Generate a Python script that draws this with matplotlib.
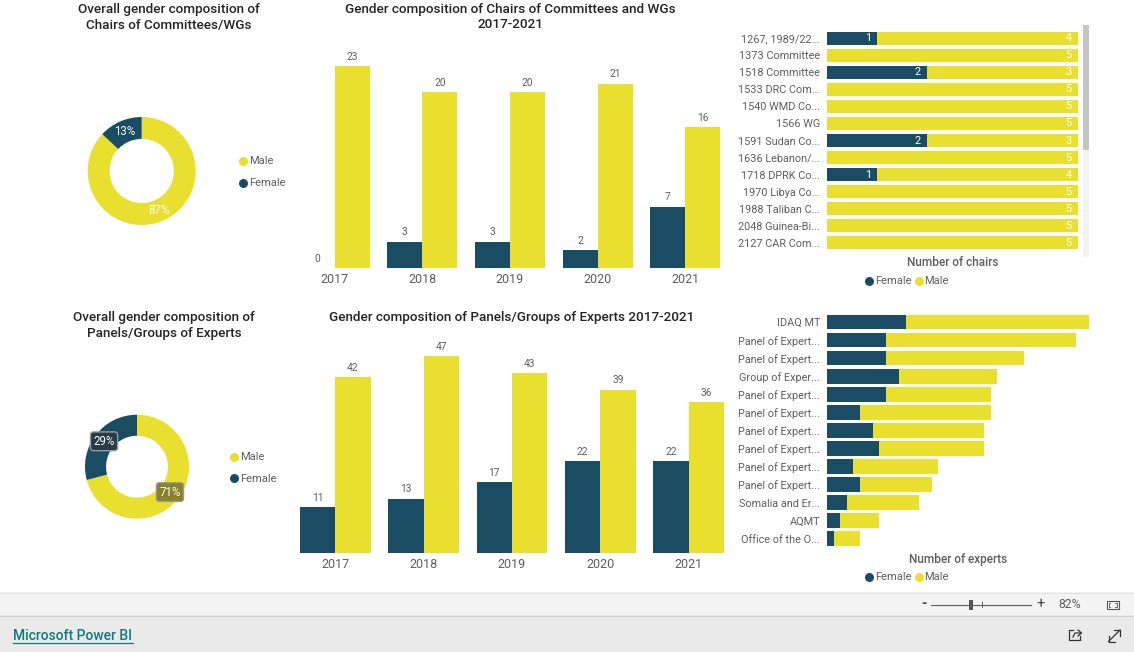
import matplotlib
matplotlib.use("Agg")
import matplotlib.pyplot as plt
from matplotlib.patches import Rectangle

W, H = 1134, 652

NAVY = "#1A4D63"
YELLOW = "#E9DF2E"
GREY_TEXT = "#605E5C"
TITLE_TEXT = "#252423"

years = ["2017", "2018", "2019", "2020", "2021"]

chairs_female = [0, 3, 3, 2, 7]
chairs_male = [23, 20, 20, 21, 16]

experts_female = [11, 13, 17, 22, 22]
experts_male = [42, 47, 43, 39, 36]

committees = [
    "1267, 1989/22...", "1373 Committee", "1518 Committee", "1533 DRC Com...",
    "1540 WMD Co...", "1566 WG", "1591 Sudan Co...", "1636 Lebanon/...",
    "1718 DPRK Co...", "1970 Libya Co...", "1988 Taliban C...", "2048 Guinea-Bi...",
    "2127 CAR Com...",
]
committee_female = [1, 0, 2, 0, 0, 0, 2, 0, 1, 0, 0, 0, 0]
committee_male = [4, 5, 3, 5, 5, 5, 3, 5, 4, 5, 5, 5, 5]

panels = [
    "IDAQ MT", "Panel of Expert...", "Panel of Expert...", "Group of Exper...",
    "Panel of Expert...", "Panel of Expert...", "Panel of Expert...", "Panel of Expert...",
    "Panel of Expert...", "Panel of Expert...", "Somalia and Er...", "AQMT",
    "Office of the O...",
]
panel_female = [12, 9, 9, 11, 9, 5, 7, 8, 4, 5, 3, 2, 1]
panel_male = [28, 29, 21, 15, 16, 20, 17, 16, 13, 11, 11, 6, 4]

plt.rcParams["font.family"] = ["Roboto", "DejaVu Sans"]

fig = plt.figure(figsize=(W / 100, H / 100), dpi=100, facecolor="white")


def axes_px(x0, y0, x1, y1):
    # pixel box measured from the top left of the picture
    ax = fig.add_axes([x0 / W, 1 - y1 / H, (x1 - x0) / W, (y1 - y0) / H])
    ax.patch.set_alpha(0)
    return ax


# page furniture, drawn in pixel coordinates
page = axes_px(0, 0, W, H)
page.set_xlim(0, W)
page.set_ylim(H, 0)
page.axis("off")


def donut(box, female, male, label_boxes=False):
    ax = axes_px(*box)
    wedges, _, pcts = ax.pie(
        [sum(male), sum(female)],
        colors=[YELLOW, NAVY],
        startangle=90,
        counterclock=False,
        radius=1,
        wedgeprops={"width": 0.405},
        autopct="%.0f%%",
        pctdistance=0.8,
        textprops={"color": "white", "fontsize": 8.3},
    )
    ax.set_xlim(-1, 1)
    ax.set_ylim(-1, 1)
    if label_boxes:
        for t, col in zip(pcts, ["#8A8226", "#263C47"]):
            t.set_bbox({"boxstyle": "round,pad=0.25", "fc": col, "ec": "#9A9A9A", "lw": 1})


def columns(box, female, male, ymax):
    ax = axes_px(*box)
    x = list(range(len(years)))
    b1 = ax.bar([i - 0.2 for i in x], female, width=0.4, color=NAVY)
    b2 = ax.bar([i + 0.2 for i in x], male, width=0.4, color=YELLOW)
    ax.bar_label(b1, padding=3, fontsize=7.3, color=GREY_TEXT)
    ax.bar_label(b2, padding=3, fontsize=7.3, color=GREY_TEXT)
    ax.set_xticks(x)
    ax.set_xticklabels(years, fontsize=9, color=GREY_TEXT)
    ax.set_yticks([])
    ax.tick_params(axis="x", length=0, pad=3.5)
    ax.set_xlim(-0.5, len(years) - 0.5)
    ax.set_ylim(0, ymax)
    for s in ax.spines.values():
        s.set_visible(False)


def stacked(box, names, female, male, xmax, bar_h, show_values):
    ax = axes_px(*box)
    y = list(range(len(names)))
    b1 = ax.barh(y, female, height=bar_h, color=NAVY)
    b2 = ax.barh(y, male, left=female, height=bar_h, color=YELLOW)
    if show_values:
        ax.bar_label(b1, labels=[str(v) if v else "" for v in female],
                     padding=-9, fontsize=7.8, color="white")
        ax.bar_label(b2, labels=[str(v) if v else "" for v in male],
                     padding=-9, fontsize=7.8, color="white")
    ax.set_yticks(y)
    ax.set_yticklabels(names, fontsize=7.8, color=GREY_TEXT)
    ax.set_xticks([])
    ax.tick_params(axis="y", length=0, pad=5)
    ax.set_xlim(0, xmax)
    ax.set_ylim(len(names) - 0.5, -0.5)
    for s in ax.spines.values():
        s.set_visible(False)


donut((87.7, 117, 195.7, 225), chairs_female, chairs_male)
donut((85, 414.7, 189, 518.7), experts_female, experts_male, label_boxes=True)

columns((291, 30, 729, 268), chairs_female, chairs_male, 238 / (202 / 23))
columns((291, 320, 733, 553), experts_female, experts_male, 233 / (197 / 47))

stacked((827, 29.5, 1078, 251.5), committees, committee_female, committee_male, 5, 0.76, True)
stacked((827, 313, 1089, 547.7), panels, panel_female, panel_male, 40, 0.81, False)


def title(x, y, s):
    page.text(x, y, s, ha="center", va="center", fontsize=9.7, color=TITLE_TEXT, weight="medium")


title(169, 9, "Overall gender composition of")
title(169, 25, "Chairs of Committees/WGs")
title(510, 9, "Gender composition of Chairs of Committees and WGs")
title(510, 25, "2017-2021")
title(164, 317, "Overall gender composition of")
title(164, 333, "Panels/Groups of Experts")
title(512, 317, "Gender composition of Panels/Groups of Experts 2017-2021")


def legend_item(x, y, col, s):
    page.scatter([x], [y], s=42, color=col, linewidths=0, clip_on=False)
    page.text(x + 6, y + 0.5, s, ha="left", va="center", fontsize=8, color=GREY_TEXT)


legend_item(243, 161, YELLOW, "Male")
legend_item(243, 183, NAVY, "Female")
legend_item(234, 457, YELLOW, "Male")
legend_item(234, 478, NAVY, "Female")

legend_item(869, 281, NAVY, "Female")
legend_item(918.5, 281, YELLOW, "Male")
legend_item(869, 577, NAVY, "Female")
legend_item(918.5, 577, YELLOW, "Male")

page.text(952.5, 262.5, "Number of chairs", ha="center", va="center", fontsize=8.5,
          color=GREY_TEXT, weight="medium")
page.text(958.5, 559, "Number of experts", ha="center", va="center", fontsize=8.5,
          color=GREY_TEXT, weight="medium")

# scrollbar on the committee list
page.add_patch(Rectangle((1083, 25), 6, 232, color="#F3F3F3", lw=0))
page.add_patch(Rectangle((1083, 25), 6, 125, color="#C4C4C4", lw=0))

# footer bands
page.add_patch(Rectangle((0, 592), W, 23, color="#F3F3F3", lw=0))
page.add_patch(Rectangle((0, 615), W, 37, color="#EAEAEA", lw=0))
page.plot([0, W], [592.5, 592.5], color="#E1E1E1", lw=0.8)
page.plot([0, W], [615.5, 615.5], color="#CFCFCF", lw=0.8)

# zoom slider
page.text(924, 604, "-", ha="center", va="center", fontsize=10, color="#444444", weight="bold")
page.plot([931, 1031], [604.5, 604.5], color="#605E5C", lw=0.8)
page.add_patch(Rectangle((969, 599.5), 4, 10, color="#555555", lw=0))
page.plot([981.5, 981.5], [602, 607], color="#605E5C", lw=0.7)
page.text(1041, 604, "+", ha="center", va="center", fontsize=10.5, color="#444444")
page.text(1070, 604.5, "82%", ha="center", va="center", fontsize=8.8, color=GREY_TEXT)
page.add_patch(Rectangle((1107, 600.5), 12, 8, fc="none", ec="#555555", lw=0.8))
page.plot([1110, 1109, 1109, 1110], [602.5, 602.5, 606.5, 606.5], color="#555555", lw=0.6)
page.plot([1115, 1116.5, 1116.5, 1115], [602.5, 602.5, 606.5, 606.5], color="#555555", lw=0.6)

# link and icons
page.text(13, 636, "Microsoft Power BI", ha="left", va="center", fontsize=10,
          color="#117A7A", weight="medium")
page.plot([13, 133], [643, 643], color="#117A7A", lw=0.9)

page.plot([1073, 1069, 1069, 1080, 1080], [630, 630, 640, 640, 636], color="#333333", lw=0.9)
page.plot([1073, 1075, 1081], [637, 633, 633], color="#333333", lw=0.9)
page.plot([1078, 1081.5, 1078], [630, 633, 636], color="#333333", lw=0.9)

page.plot([1108.5, 1120], [641.5, 630], color="#333333", lw=0.9)
page.plot([1114, 1120, 1120], [630, 630, 636], color="#333333", lw=0.9)
page.plot([1108.5, 1108.5, 1114.5], [635.5, 641.5, 641.5], color="#333333", lw=0.9)

fig.savefig("out.png", dpi=100)
